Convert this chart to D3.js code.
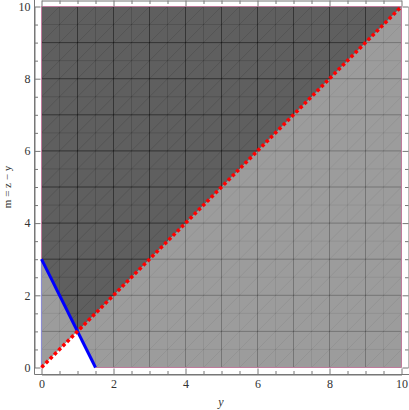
<!DOCTYPE html>
<html lang="en">
<head>
  <meta charset="UTF-8">
  <title>Region plot</title>
  <script src="https://d3js.org/d3.v7.min.js"></script>
  <style>
    body { margin: 0; background: #fff; }
    text { font-family: "Liberation Serif", "DejaVu Serif", serif; }
  </style>
</head>
<body>
<div id="chart-container"></div>
<script>
  // Axis ranges and tick labels
  const xDomain = [0, 10];
  const yDomain = [0, 10];
  const labelTicks = [0, 2, 4, 6, 8, 10];

  // Region boundaries (y, m)
  const bluePoints = [[0, 3], [1.5, 0]];           // 2y + m = 3
  const redPoints = [[0, 0], [10, 10]];            // m = y
  const regionA = [[0, 0], [10, 10], [0, 10]];     // m >= y
  const regionB = [[0, 3], [1.5, 0], [10, 0], [10, 10], [0, 10]]; // 2y + m >= 3

  const W = 409, H = 410;
  const x = d3.scaleLinear().domain(xDomain).range([41.5, 401.5]);
  const y = d3.scaleLinear().domain(yDomain).range([367.5, 6.5]);

  const svg = d3.select('#chart-container')
    .append('svg')
    .attr('width', W)
    .attr('height', H);

  const line = d3.line().x(d => x(d[0])).y(d => y(d[1]));
  const defs = svg.append('defs');

  // grid positions every 0.5
  const gridVals = x.ticks(20);
  const diagOffsets = d3.range(-20, 21).map(i => i * 0.5);

  [regionA, regionB].forEach((poly, i) => {
    const id = 'clip' + i;
    defs.append('clipPath').attr('id', id)
      .append('path').attr('d', line(poly) + 'Z');

    const g = svg.append('g').attr('clip-path', `url(#${id})`);
    g.append('path')
      .attr('d', line(poly) + 'Z')
      .attr('fill', '#000')
      .attr('fill-opacity', 0.39);

    // diagonal mesh
    g.selectAll('.diag')
      .data(diagOffsets)
      .enter().append('line')
      .attr('x1', c => x(c)).attr('y1', y(0))
      .attr('x2', c => x(c + 10)).attr('y2', y(10))
      .attr('stroke', '#000').attr('stroke-opacity', 0.08).attr('stroke-width', 0.8);

    // vertical / horizontal mesh
    g.selectAll('.vx')
      .data(gridVals)
      .enter().append('line')
      .attr('x1', d => x(d)).attr('x2', d => x(d))
      .attr('y1', y(0)).attr('y2', y(10))
      .attr('stroke', '#000')
      .attr('stroke-opacity', d => Number.isInteger(d) ? 0.25 : 0.07)
      .attr('stroke-width', 1);
    g.selectAll('.hy')
      .data(gridVals)
      .enter().append('line')
      .attr('y1', d => y(d)).attr('y2', d => y(d))
      .attr('x1', x(0)).attr('x2', x(10))
      .attr('stroke', '#000')
      .attr('stroke-opacity', d => Number.isInteger(d) ? 0.25 : 0.07)
      .attr('stroke-width', 1);
  });

  // region edges
  svg.append('path')
    .attr('d', line([[0, 3], [0, 10], [10, 10], [10, 0], [1.5, 0]]))
    .attr('fill', 'none')
    .attr('stroke', '#c07a9c')
    .attr('stroke-width', 1);
  svg.append('path')
    .attr('d', line([[0, 0], [0, 3]]))
    .attr('fill', 'none')
    .attr('stroke', '#8c8cd0')
    .attr('stroke-width', 1.2);

  // boundary lines
  svg.append('path')
    .datum(bluePoints)
    .attr('d', line)
    .attr('fill', 'none')
    .attr('stroke', '#0000ff')
    .attr('stroke-width', 3);

  svg.append('path')
    .datum(redPoints)
    .attr('d', line)
    .attr('fill', 'none')
    .attr('stroke', '#ff0000')
    .attr('stroke-width', 3.5)
    .attr('stroke-dasharray', '3.4 2.6');

  // frame axes
  function styleAxis(g) {
    g.select('.domain').attr('stroke', '#777');
    g.selectAll('.tick line').attr('stroke', '#777');
    g.selectAll('.tick text')
      .attr('fill', '#333')
      .style('font-size', '12px')
      .style('font-family', '"Liberation Serif", serif');
  }

  const minorTicks = gridVals.filter(d => !labelTicks.includes(d));

  function frame(axisFn, scale, transform, labels, pad) {
    const gMinor = svg.append('g').attr('transform', transform)
      .call(axisFn(scale).tickValues(minorTicks).tickSize(-3.5).tickFormat(''));
    gMinor.select('.domain').remove();
    gMinor.selectAll('.tick line').attr('stroke', '#777');
    const gMajor = svg.append('g').attr('transform', transform)
      .call(axisFn(scale).tickValues(labelTicks).tickSize(-6).tickSizeOuter(0).tickPadding(pad)
        .tickFormat(labels ? d3.format('d') : ''));
    styleAxis(gMajor);
  }

  frame(d3.axisBottom, x, 'translate(0,374.5)', true, 5);
  frame(d3.axisTop, x, 'translate(0,0.5)', false, 5);
  frame(d3.axisLeft, y, 'translate(34.5,0)', true, 4);
  frame(d3.axisRight, y, 'translate(408.5,0)', false, 4);

  // extend frame lines to the corners
  svg.append('line').attr('x1', 34.5).attr('x2', 409).attr('y1', 374.5).attr('y2', 374.5).attr('stroke', '#777');
  svg.append('line').attr('x1', 34.5).attr('x2', 34.5).attr('y1', 0).attr('y2', 374.5).attr('stroke', '#777');

  // axis titles
  svg.append('text')
    .attr('x', 221).attr('y', 406)
    .attr('text-anchor', 'middle')
    .style('font-size', '12px')
    .style('font-style', 'italic')
    .attr('fill', '#333')
    .text('y');

  svg.append('text')
    .attr('transform', 'translate(11,187) rotate(-90)')
    .attr('text-anchor', 'middle')
    .style('font-size', '11px')
    .attr('fill', '#333')
    .text('m = z \u2212 y');
</script>
</body>
</html>
